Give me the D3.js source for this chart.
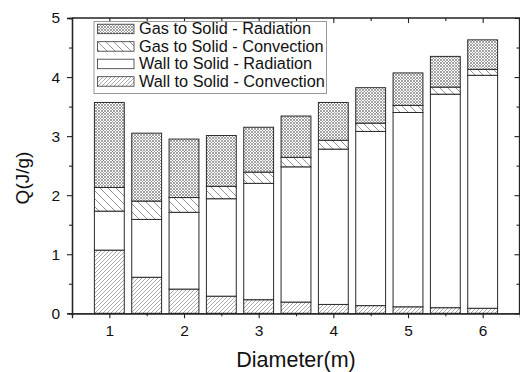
<!DOCTYPE html>
<html><head><meta charset="utf-8">
<script src="https://cdn.jsdelivr.net/npm/d3@7"></script>
<style>body{margin:0;background:#fff}svg{display:block;font-family:"Liberation Sans",Arial,sans-serif}</style>
</head><body><svg id="c" width="520" height="372"></svg>
<script>
const diameters = [1,1.5,2,2.5,3,3.5,4,4.5,5,5.5,6];
const wallConv = [1.07,0.61,0.41,0.29,0.23,0.19,0.15,0.13,0.11,0.095,0.085];
const wallRad  = [0.66,0.98,1.30,1.65,1.97,2.29,2.63,2.95,3.29,3.615,3.945];
const gasConv  = [0.40,0.31,0.25,0.21,0.19,0.16,0.15,0.14,0.12,0.12,0.10];
const gasRad   = [1.44,1.15,0.99,0.86,0.76,0.70,0.64,0.60,0.55,0.52,0.50];
const seriesNames = ["Wall to Solid - Convection","Wall to Solid - Radiation","Gas to Solid - Convection","Gas to Solid - Radiation"];
const xTicks = [1,2,3,4,5,6];
const yTicks = [0,1,2,3,4,5];

const svg = d3.select("#c");
const L=72, R=520, T=18, B=313.3;
const x = d3.scaleLinear().domain([0.5,6.5]).range([L,R]);
const y = d3.scaleLinear().domain([0,5]).range([B,T]);

const defs = svg.append("defs");
let p = defs.append("pattern").attr("id","pGR").attr("patternUnits","userSpaceOnUse").attr("width",3).attr("height",3);
p.append("rect").attr("width",3).attr("height",3).attr("fill","#fff");
p.append("path").attr("d","M0,0L3,3M3,0L0,3").attr("stroke","#8a8a8a").attr("stroke-width",0.8);
p = defs.append("pattern").attr("id","pGC").attr("patternUnits","userSpaceOnUse").attr("width",8).attr("height",8);
p.append("rect").attr("width",8).attr("height",8).attr("fill","#fff");
p.append("path").attr("d","M0,0L8,8M-4,4L4,12M4,-4L12,4").attr("stroke","#666").attr("stroke-width",0.7);
p = defs.append("pattern").attr("id","pWC").attr("patternUnits","userSpaceOnUse").attr("width",4).attr("height",4);
p.append("rect").attr("width",4).attr("height",4).attr("fill","#fff");
p.append("path").attr("d","M0,4L4,0M-1,1L1,-1M3,5L5,3").attr("stroke","#888").attr("stroke-width",0.7);

const fills = ["url(#pWC)","#fff","url(#pGC)","url(#pGR)"];
const data = diameters.map((d,i)=>({d, wc:wallConv[i], wr:wallRad[i], gc:gasConv[i], gr:gasRad[i]}));
const stack = d3.stack().keys(["wc","wr","gc","gr"])(data);
const bw = x(1.4)-x(1);

stack.forEach((layer,k)=>{
  svg.append("g").selectAll("rect").data(layer).join("rect")
    .attr("x",d=>x(d.data.d)-bw/2).attr("width",bw)
    .attr("y",d=>y(d[1])).attr("height",d=>y(d[0])-y(d[1]))
    .attr("fill",fills[k]).attr("stroke","#2a2a2a").attr("stroke-width",1);
});

const gx = svg.append("g").attr("transform",`translate(0,${B})`)
  .call(d3.axisBottom(x).tickValues(xTicks).tickFormat(d3.format("d")).tickSize(5).tickPadding(7));
const gxm = svg.append("g").attr("transform",`translate(0,${B})`)
  .call(d3.axisBottom(x).tickValues([1.5,2.5,3.5,4.5,5.5]).tickFormat("").tickSize(3));
const gy = svg.append("g").attr("transform",`translate(${L},0)`)
  .call(d3.axisLeft(y).tickValues(yTicks).tickFormat(d3.format("d")).tickSize(5).tickPadding(7));
const gym = svg.append("g").attr("transform",`translate(${L},0)`)
  .call(d3.axisLeft(y).tickValues([0.5,1.5,2.5,3.5,4.5]).tickFormat("").tickSize(3));
const gt = svg.append("g").attr("transform",`translate(0,${T})`)
  .call(d3.axisBottom(x).tickValues(xTicks).tickFormat("").tickSize(5));
const gtm = svg.append("g").attr("transform",`translate(0,${T})`)
  .call(d3.axisBottom(x).tickValues([1.5,2.5,3.5,4.5,5.5]).tickFormat("").tickSize(3));
const gr = svg.append("g").attr("transform",`translate(${R-0.5},0)`)
  .call(d3.axisLeft(y).tickValues(yTicks).tickFormat("").tickSize(5));
const grm = svg.append("g").attr("transform",`translate(${R-0.5},0)`)
  .call(d3.axisLeft(y).tickValues([0.5,1.5,2.5,3.5,4.5]).tickFormat("").tickSize(3));
[gx,gxm,gy,gym,gt,gtm,gr,grm].forEach(g=>{
  g.selectAll("path.domain").attr("stroke","#222").attr("stroke-width",1.3);
  g.selectAll(".tick line").attr("stroke","#222").attr("stroke-width",1.1);
  g.selectAll("text").attr("font-size",15.5).attr("fill","#111").attr("font-family","Liberation Sans, Arial, sans-serif");
});
gt.select("path.domain").remove(); gtm.select("path.domain").remove();
gr.select("path.domain").remove(); grm.select("path.domain").remove();
svg.append("path").attr("d",`M${L},${T}H${R-0.5}V${B}`).attr("fill","none").attr("stroke","#222").attr("stroke-width",1.3);

svg.append("text").attr("x",296).attr("y",367).attr("text-anchor","middle")
  .attr("font-size",21.5).attr("fill","#111").text("Diameter(m)");
svg.append("text").attr("transform","translate(29,178) rotate(-90)").attr("text-anchor","middle")
  .attr("font-size",19).attr("fill","#111").text("Q(J/g)");

const lg = svg.append("g");
lg.append("rect").attr("x",94).attr("y",21.5).attr("width",232.5).attr("height",72)
  .attr("fill","#fff").attr("stroke","#999").attr("stroke-width",1);
const legOrder = [3,2,1,0];
legOrder.forEach((k,i)=>{
  const cy = 28.7 + i*17.5;
  lg.append("rect").attr("x",97.5).attr("y",cy-4.5).attr("width",36.5).attr("height",9.5)
    .attr("fill",fills[k]).attr("stroke","#333").attr("stroke-width",0.8);
  lg.append("text").attr("x",139).attr("y",cy+5.7).attr("font-size",16.3).attr("fill","#111").text(seriesNames[k]);
});
</script></body></html>
